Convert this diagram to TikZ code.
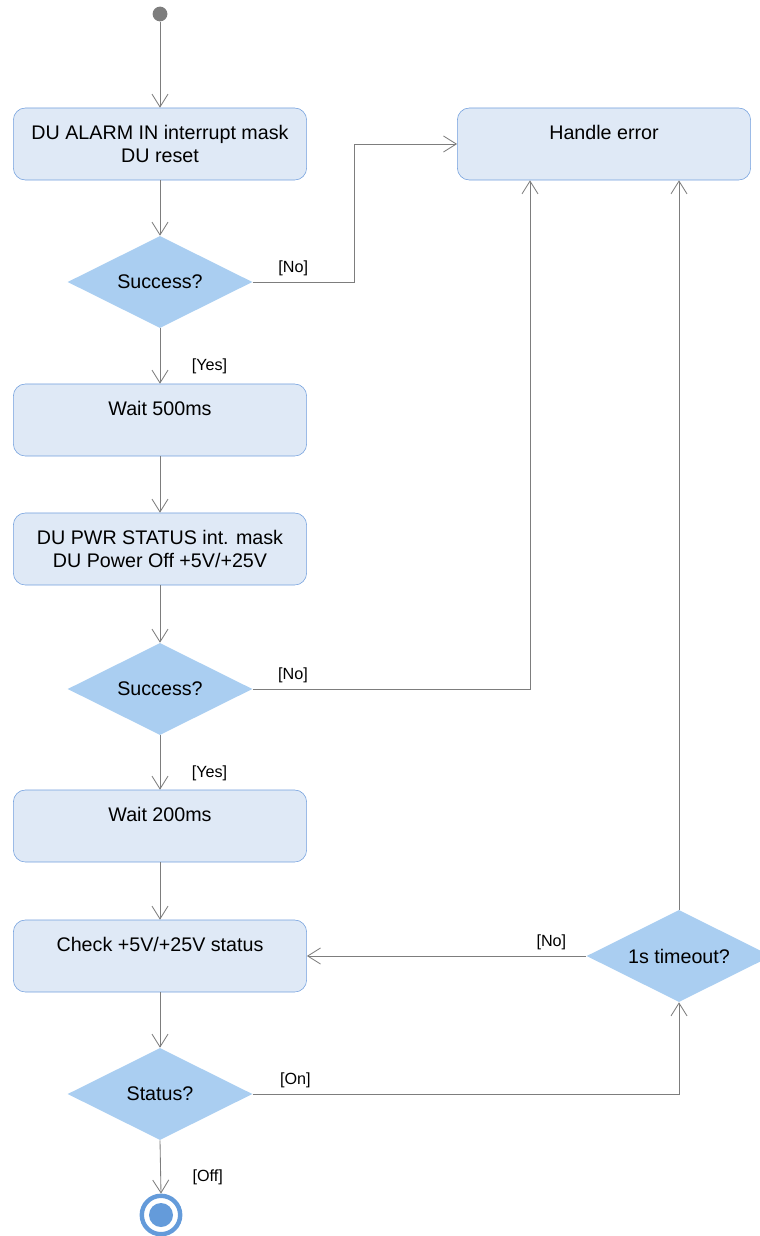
\documentclass[tikz,border=0pt]{standalone}
\usepackage{fontspec}
\setmainfont{Liberation Sans}
\usetikzlibrary{arrows.meta}
\usetikzlibrary{shapes.geometric}

\definecolor{boxfill}{RGB}{223,233,246}
\definecolor{boxline}{RGB}{115,160,222}
\definecolor{decfill}{RGB}{170,206,241}
\definecolor{flowline}{RGB}{125,125,125}
\definecolor{endblue}{RGB}{100,155,218}

\begin{document}
\begin{tikzpicture}[x=0.025cm, y=-0.025cm,
    action/.style={draw=boxline, fill=boxfill, rounded corners=0.3cm,
      minimum width=7.33cm, minimum height=1.8cm, align=center,
      font=\fontsize{14}{17}\selectfont},
    decision/.style={diamond, fill=decfill, aspect=2, inner sep=0pt,
      minimum width=4.62cm, minimum height=2.3cm,
      font=\fontsize{14}{17}\selectfont},
    flow/.style={draw=flowline, line width=0.6pt,
      -{Straight Barb[length=0.32cm, width=0.4cm]}},
    guard/.style={font=\fontsize{11.5}{13}\selectfont, inner sep=1pt}]
      \useasboundingbox (0, 0) rectangle (760, 1236);

      \node[circle, fill=flowline, minimum size=0.37cm, inner sep=0pt] (start) at (160, 14) {};
      \node[action] (alarm) at (160, 144) {DU ALARM IN interrupt mask\\DU reset};
      \node[decision] (ok1) at (160, 282) {Success?};
      \node[action] (wait1) at (160, 420) {Wait 500ms\\~};
      \node[action] (pwr) at (160, 549) {DU PWR STATUS int. mask\\DU Power Off +5V/+25V};
      \node[decision] (ok2) at (160, 689) {Success?};
      \node[action] (wait2) at (160, 826) {Wait 200ms\\~};
      \node[action] (check) at (160, 956) {Check +5V/+25V status\\~};
      \node[decision] (status) at (160, 1094) {Status?};
      \node[action] (error) at (604, 144) {Handle error\\~};
      \node[decision] (timeout) at (679, 956) {1s timeout?};
      \node[circle, draw=endblue, line width=1.1mm, minimum size=0.96cm, inner sep=0pt] (stop) at (161, 1215) {};
      \fill[endblue] (stop.center) circle (0.3cm);

      \coordinate (noOne) at (354, 282);
      \coordinate (noTwo) at (530, 689);

      % main column
      \draw[flow] (start) -- (alarm.north);
      \draw[flow] (alarm.south) -- (ok1.north);
      \draw[flow] (ok1.south) -- node[guard, pos=0.68, right=0.75cm] {[Yes]} (wait1.north);
      \draw[flow] (wait1.south) -- (pwr.north);
      \draw[flow] (pwr.south) -- (ok2.north);
      \draw[flow] (ok2.south) -- node[guard, pos=0.69, right=0.75cm] {[Yes]} (wait2.north);
      \draw[flow] (wait2.south) -- (check.north);
      \draw[flow] (check.south) -- (status.north);
      \draw[flow] (status.south) -- node[guard, pos=0.69, right=0.75cm] {[Off]} (stop.north);

      % error branches
      \draw[flow] (ok1.east) -- node[guard, pos=0.4, above=0.1cm] {[No]} (noOne) |- (error.west);
      \draw[flow] (ok2.east) -- node[guard, pos=0.145, above=0.1cm] {[No]} (noTwo) -- (noTwo |- error.south);
      \draw[flow] (status.east) -- node[guard, pos=0.1, above=0.1cm] {[On]} (status.east -| timeout.south) -- (timeout.south);
      \draw[flow] (timeout.west) -- node[guard, pos=0.125, above=0.1cm] {[No]} (check.east);
      \draw[flow] (timeout.north) -- (timeout.north |- error.south);
    \end{tikzpicture}
\end{document}
